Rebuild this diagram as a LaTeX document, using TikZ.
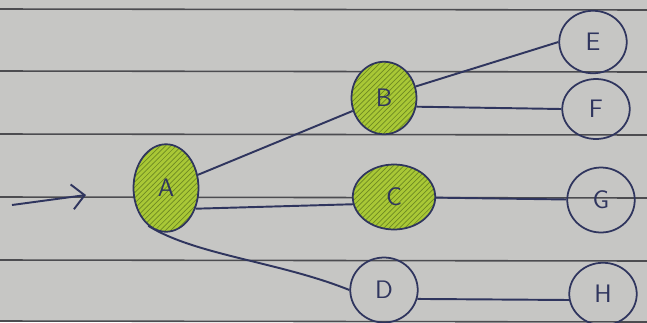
\documentclass[tikz,border=0pt]{standalone}
\usepackage{tikz}
\usetikzlibrary{arrows.meta, patterns, shapes.geometric}
\definecolor{paper}{HTML}{C6C6C4}
\definecolor{rule}{HTML}{4C4C50}
\definecolor{ink}{HTML}{2F355E}
\definecolor{marker}{HTML}{A9C836}
\definecolor{hatch}{HTML}{6E8A22}

\begin{document}
\begin{tikzpicture}[x=0.02cm, y=-0.02cm,
    vertex/.style={draw=ink, line width=1pt, ellipse, inner sep=0pt, minimum width=#1, text=ink, font=\sffamily\Large},
    vertex/.default=1.35cm,
    visited/.style={vertex=1.3cm, fill=marker, preaction={fill=marker}, pattern=north east lines, pattern color=hatch},
    edge/.style={ink, line width=1.1pt},
    arrow/.style={-{Straight Barb[length=2.5mm]}, line width=1.1pt, color=ink}
]
% ruled paper
\fill[paper] (0,0) rectangle (647,322);
\useasboundingbox (0,0) rectangle (647,322);
\foreach \y in {9, 71, 134, 197, 260, 321}
    \draw[rule, line width=0.9pt] (0,\y) -- (647,\y+1);

\node[visited, minimum height=1.75cm] (A) at (166,188) {A};
\node[visited, minimum height=1.45cm] (B) at (384,98) {B};
\node[visited, minimum width=1.65cm, minimum height=1.3cm] (C) at (394,197) {C};
\node[vertex, minimum height=1.3cm] (D) at (384,290) {D};
\node[vertex, minimum height=1.25cm] (E) at (593,42) {E};
\node[vertex, minimum height=1.2cm] (F) at (596,109) {F};
\node[vertex, minimum height=1.3cm] (G) at (601,200) {G};
\node[vertex, minimum height=1.25cm] (H) at (603,294) {H};

\coordinate (start) at (12,205);
\coordinate (entry) at (86,195);

\draw[arrow] (start) -- (entry);
\draw[edge] (A) -- (B);
\draw[edge] (A.-35) -- (C.190);
\draw[edge] (A.-115) .. controls (195,255) and (280,262) .. (D.west);
\draw[edge] (B.20) -- (E.west);
\draw[edge] (B.-15) -- (F.west);
\draw[edge] (C) -- (G);
\draw[edge] (D.-15) -- (H.190);
\end{tikzpicture}
\end{document}
